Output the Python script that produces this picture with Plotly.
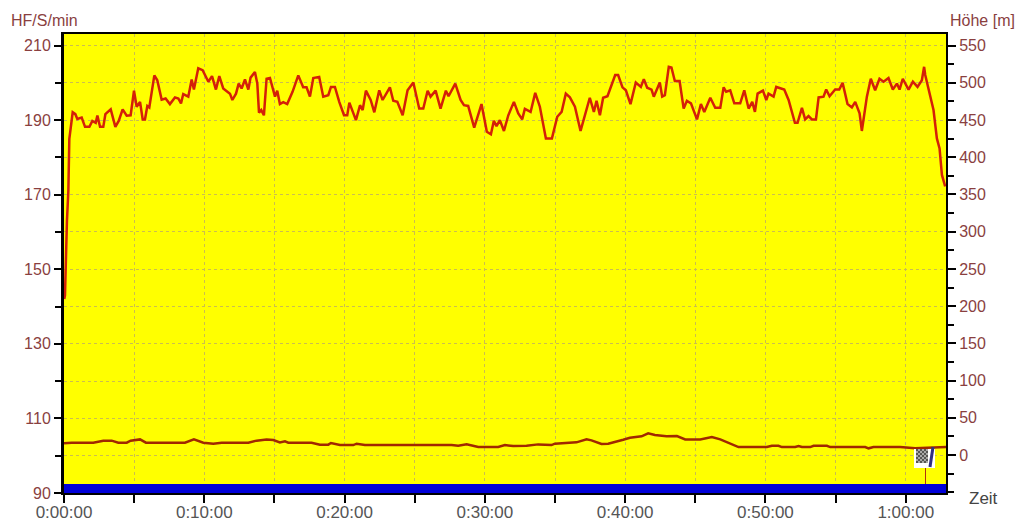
import plotly.graph_objects as go

hr_minutes = [0.02,0.07,0.21,0.31,0.38,0.50,0.62,0.81,0.95,1.26,1.50,1.81,2.02,2.26,2.38,2.57,2.80,2.95,3.33,3.66,3.90,4.18,4.47,4.75,4.99,5.18,5.42,5.61,5.77,5.94,6.08,6.44,6.65,6.96,7.24,7.55,7.91,8.15,8.34,8.50,8.86,9.10,9.26,9.57,9.88,10.29,10.55,10.83,11.07,11.35,11.83,12.00,12.26,12.45,12.66,12.90,13.14,13.30,13.61,13.78,13.90,14.06,14.25,14.44,14.68,15.04,15.20,15.39,15.63,15.91,16.29,16.70,17.05,17.29,17.53,17.77,18.19,18.48,18.84,19.03,19.31,19.62,
 19.96,20.19,20.34,20.81,21.10,21.29,21.52,21.86,22.12,22.47,22.71,23.23,23.47,23.76,24.14,24.49,24.90,25.32,25.61,25.92,26.13,26.49,26.84,27.22,27.41,27.89,28.27,28.51,28.81,29.24,29.76,30.14,30.43,30.64,30.83,31.07,31.36,31.67,32.07,32.38,32.66,32.85,33.26,33.59,33.92,34.35,34.78,35.16,35.47,35.77,36.06,36.42,36.82,37.48,37.77,37.96,38.20,38.43,38.74,39.29,39.50,39.81,40.05,40.38,40.76,41.12,41.33,41.57,41.88,42.04,42.47,42.64,42.83,43.11,43.30,43.54,43.88,
 44.17,44.40,44.69,45.12,45.40,45.64,46.07,46.42,46.78,47.02,47.20,47.49,47.78,48.20,48.49,48.80,49.06,49.25,49.44,49.82,50.06,50.22,50.58,50.77,51.34,51.65,52.10,52.29,52.60,52.83,53.07,53.31,53.60,53.79,54.14,54.33,54.57,54.97,55.26,55.50,55.85,56.16,56.40,56.71,56.87,57.23,57.51,57.82,58.13,58.42,58.77,59.08,59.37,59.56,59.79,60.20,60.51,60.84,61.15,61.31,61.39,61.74,61.98,62.22,62.41,62.58,62.81]
hr_values = [142,143,163,171,185,189.1,192.1,191.6,190.3,190.7,188.2,188.2,189.8,189.3,191.2,188.2,188.2,191.6,192.9,188.2,189.8,192.9,191.2,191.3,197.9,193.6,194.9,190.2,190.2,193.8,193.4,202.0,200.7,195.5,195.8,194.3,196.1,195.8,194.5,197.0,196.3,200.9,198.2,203.9,203.4,200.3,201.8,198.2,201.8,198.5,197.1,195.4,197.1,199.8,198.5,200.9,198.2,201.4,202.9,199.8,192.0,192.7,191.3,201.1,201.3,196.3,197.9,194.3,194.8,194.3,197.6,202.0,198.8,198.8,196.3,201.3,201.6,196.3,196.7,198.9,198.9,194.9,
 191.3,191.3,194.7,190.0,194.0,192.7,197.9,195.4,192.1,198.0,195.4,198.8,195.2,194.9,191.3,198.0,200.1,193.1,193.1,197.9,196.3,197.9,193.1,197.9,196.4,199.8,195.4,194.0,193.8,188.0,194.3,186.9,186.2,189.8,188.4,190.0,187.1,191.3,194.9,191.8,190.2,193.0,192.2,197.3,193.6,185.1,185.1,190.9,192.2,197.1,196.1,193.6,187.1,196.0,192.2,195.2,191.3,196.0,196.4,202.1,202.1,198.8,198.0,194.3,200.1,198.9,201.0,198.7,198.2,196.3,200.1,196.3,196.7,204.3,204.1,200.5,200.5,
 193.1,195.2,194.5,190.2,194.3,192.2,196.0,193.3,193.3,198.8,197.6,198.0,194.5,194.5,198.0,193.1,194.9,192.2,197.1,197.9,195.4,197.1,196.3,198.9,198.2,195.4,189.3,189.3,193.3,190.2,191.1,190.2,190.2,196.1,196.3,198.2,196.4,198.2,198.2,200.0,194.3,193.4,194.9,191.8,187.1,196.3,201.1,198.0,201.1,200.3,201.3,198.2,199.8,198.2,201.1,198.2,200.3,198.9,200.7,204.3,202.1,196.3,192.7,185.1,182.4,175.3,172.2]

alt_minutes = [0,0.55,2.09,2.80,3.40,3.87,4.47,4.75,5.42,5.84,8.62,9.26,9.93,10.64,11.24,12.78,13.14,13.73,14.44,14.92,15.39,15.75,15.99,17.65,18.24,18.84,19.03,
 19.67,20.62,20.86,21.29,21.45,27.63,28.10,28.70,29.05,29.53,30.95,31.43,32.02,32.97,33.80,34.75,34.99,36.53,37.25,37.60,38.31,38.79,39.86,40.34,41.17,41.64,42.12,42.95,
 43.69,44.28,45.35,46.18,46.78,48.08,50.10,50.46,50.93,51.17,52.12,52.36,52.60,53.19,53.43,54.38,54.62,57.11,57.35,57.70,59.60,60.67,62.88]
alt_values = [15.7,16.6,16.6,19.3,19.3,16.6,16.6,19.3,21.0,16.6,16.6,21.0,16.6,15.2,16.6,17.0,16.6,19.3,21.0,20.1,17.0,18.4,16.6,16.6,13.9,13.9,16.1,
 13.4,13.4,15.2,14.3,13.4,13.4,12.5,14.3,12.5,10.7,10.7,13.4,12.1,12.5,14.3,13.4,15.2,17.0,21.0,19.7,14.8,15.2,20.6,23.3,25.1,29.1,26.9,25.1,
 25.5,21.0,21.0,24.2,21.0,10.7,10.7,12.5,12.5,10.7,10.7,12.1,10.7,10.7,12.5,12.5,10.7,10.7,9.0,10.7,10.7,9.0,10.7]

band_minutes = [0, 62.87]
band_values = [92.4, 92.4]

hr_ticks = [90,110,130,150,170,190,210]
alt_ticks = [0,50,100,150,200,250,300,350,400,450,500,550]
time_ticks = [0,10,20,30,40,50,60]
time_labels = ["0:00:00","0:10:00","0:20:00","0:30:00","0:40:00","0:50:00","1:00:00"]

W, H = 1017, 523
L, R, T, B = 64, 946, 34, 493
GRID = "#cabd50"
LBL = "#8a3f3f"
FONT = "Liberation Sans"

def fx(p): return (p - L) / (R - L)
def fy(p): return (B - p) / (B - T)

fig = go.Figure()
fig.add_trace(go.Scatter(x=band_minutes, y=band_values, fill="tozeroy", fillcolor="#0000d8",
                         mode="lines", line=dict(color="#0000d8", width=0), showlegend=False))
fig.add_trace(go.Scatter(x=alt_minutes, y=alt_values, yaxis="y2", mode="lines",
                         line=dict(color="#a02800", width=2.5), showlegend=False))
fig.add_trace(go.Scatter(x=hr_minutes, y=hr_values, mode="lines",
                         line=dict(color="#d42008", width=2.5), showlegend=False))

shapes = []
def rect(x0, y0, x1, y1, c):
    shapes.append(dict(type="rect", xref="x domain", yref="y domain", x0=fx(x0), x1=fx(x1),
                       y0=fy(y1), y1=fy(y0), fillcolor=c, line=dict(width=0), layer="above"))
rect(914, 449, 935, 468, "#ffffff")
for i in range(6):
    for j in range(7):
        rect(916 + i*2, 449 + j*2, 918 + i*2, 451 + j*2, "#555555" if (i + j) % 2 == 0 else "#a8a8a8")
shapes.append(dict(type="line", xref="x domain", yref="y domain", x0=fx(933), x1=fx(930), y0=fy(447), y1=fy(467),
                   line=dict(color="#303080", width=3), layer="above"))
shapes.append(dict(type="line", xref="x domain", yref="y domain", x0=fx(925.5), x1=fx(925.5), y0=fy(468), y1=fy(484),
                   line=dict(color="#b03010", width=1), layer="above"))

def note(text, x, y, anchor, color, size):
    return dict(text=text, xref="paper", yref="paper", x=fx(x), y=fy(y), xanchor=anchor, yanchor="middle",
                showarrow=False, font=dict(family=FONT, size=size, color=color))

fig.update_layout(
    width=W, height=H, margin=dict(l=L, r=W-R, t=T, b=H-B, autoexpand=False),
    paper_bgcolor="#ffffff", plot_bgcolor="#ffff00", showlegend=False,
    font=dict(family=FONT, size=16),
    shapes=shapes,
    annotations=[note("HF/S/min", 9, 20, "left", LBL, 16), note("Höhe [m]", 1017, 20, "right", LBL, 16),
                 note("Zeit", 967, 498, "left", "#444444", 17)],
    xaxis=dict(range=[0, 62.87], tickmode="array", tickvals=time_ticks, ticktext=time_labels,
               ticks="outside", ticklen=8, tickwidth=2, tickcolor="#000000", ticklabelstandoff=-5,
               tickfont=dict(family=FONT, size=17, color="#555555"),
               showline=True, linecolor="#000000", linewidth=2, mirror=True, zeroline=False,
               showgrid=True, gridcolor=GRID, griddash="3px,3px", gridwidth=1,
               minor=dict(tickmode="linear", tick0=0, dtick=5, ticks="outside", ticklen=8, tickwidth=2,
                          tickcolor="#000000", showgrid=True, gridcolor=GRID, griddash="3px,3px", gridwidth=1)),
    yaxis=dict(range=[90, 213.1], tickmode="array", tickvals=hr_ticks,
               ticks="outside", ticklen=7, tickwidth=2, tickcolor="#000000",
               tickfont=dict(family=FONT, size=16, color=LBL),
               showline=True, linecolor="#000000", linewidth=3, zeroline=False,
               showgrid=True, gridcolor=GRID, griddash="3px,3px", gridwidth=1,
               minor=dict(tickmode="linear", tick0=90, dtick=10, ticks="outside", ticklen=6, tickwidth=2,
                          tickcolor="#000000", showgrid=True, gridcolor=GRID, griddash="3px,3px", gridwidth=1)),
    yaxis2=dict(overlaying="y", side="right", range=[-51, 565.5], tickmode="array", tickvals=alt_ticks,
                ticks="outside", ticklen=8, tickwidth=2, tickcolor="#000000",
                tickfont=dict(family=FONT, size=16, color=LBL),
                showline=True, linecolor="#000000", linewidth=2, zeroline=False, showgrid=False,
                minor=dict(tickmode="linear", tick0=0, dtick=25, ticks="outside", ticklen=6, tickwidth=2,
                           tickcolor="#000000", showgrid=False)),
)
fig.write_html("out.html", config=dict(displayModeBar=False),
               post_script="document.body.style.margin='0';document.body.style.overflow='hidden';")
